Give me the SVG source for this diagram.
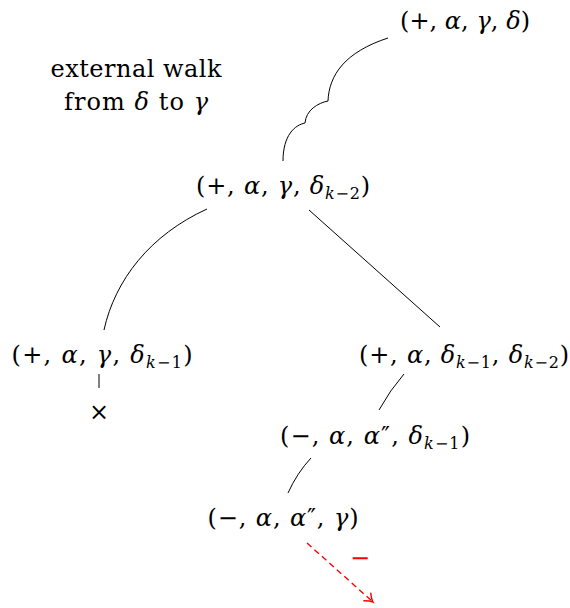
<svg xmlns="http://www.w3.org/2000/svg" width="570" height="608" viewBox="0 0 570 608">
<style>
text{font-family:"DejaVu Serif","Liberation Serif",serif;font-size:24px;fill:#000}
.c{text-anchor:middle}
.i{font-style:italic}
.s{font-size:16px;font-style:italic}
.s2{font-size:16px}
.e{fill:none;stroke:#000;stroke-width:1}
.r{fill:none;stroke:#ff0000;stroke-width:1.4;stroke-dasharray:6 4}
</style>
<defs>
<marker id="ar" markerWidth="14" markerHeight="14" refX="10" refY="7" orient="auto" markerUnits="userSpaceOnUse">
<path d="M2,1.5 Q7,6 10,7 Q7,8 2,12.5" fill="none" stroke="#ff0000" stroke-width="1.4"/>
</marker>
</defs>
<rect width="570" height="608" fill="#fff"/>
<g id="connectors">
<path class="e" d="M388,38 C345,52 329,75 328,101 C318,103 306,110 305,123 C295,125 283,135 283,161"/>
<path class="e" d="M207,209 C150,235 115,280 104,330"/>
<path class="e" d="M309,210 L440,327"/>
<path class="e" d="M99,374 L99,388"/>
<path class="e" d="M404,374 Q390,390 379,410"/>
<path class="e" d="M311,458 Q297,473 288,493"/>
<path class="r" d="M307,543 L373,602" marker-end="url(#ar)"/>
<text x="360" y="566" class="c" style="fill:#ff0000">−</text>
</g>
<g id="label-walk">
<text x="136" y="77" class="c" textLength="171" lengthAdjust="spacing">external walk</text>
<text x="136" y="110" class="c" textLength="144" lengthAdjust="spacing">from <tspan class="i">δ</tspan> to <tspan class="i">γ</tspan></text>
</g>
<g id="n-top">
<text x="465" y="29" class="c" textLength="130" lengthAdjust="spacing">(+, <tspan class="i">α</tspan>, <tspan class="i">γ</tspan>, <tspan class="i">δ</tspan>)</text>
</g>
<g id="n-k2">
<text x="283" y="194" class="c" textLength="174" lengthAdjust="spacing">(+, <tspan class="i">α</tspan>, <tspan class="i">γ</tspan>, <tspan class="i">δ</tspan><tspan class="s" dy="5">k</tspan><tspan class="s2">−2</tspan><tspan dy="-5">)</tspan></text>
</g>
<g id="n-left">
<text x="102" y="363" class="c" textLength="181" lengthAdjust="spacing">(+, <tspan class="i">α</tspan>, <tspan class="i">γ</tspan>, <tspan class="i">δ</tspan><tspan class="s" dy="5">k</tspan><tspan class="s2">−1</tspan><tspan dy="-5">)</tspan></text>
<text x="99" y="420" class="c">×</text>
</g>
<g id="n-right">
<text x="464" y="363" class="c" textLength="210" lengthAdjust="spacing">(+, <tspan class="i">α</tspan>, <tspan class="i">δ</tspan><tspan class="s" dy="5">k</tspan><tspan class="s2">−1</tspan><tspan dy="-5">, </tspan><tspan class="i">δ</tspan><tspan class="s" dy="5">k</tspan><tspan class="s2">−2</tspan><tspan dy="-5">)</tspan></text>
</g>
<g id="n-minus1">
<text x="375" y="444" class="c" textLength="190" lengthAdjust="spacing">(−, <tspan class="i">α</tspan>, <tspan class="i">α</tspan>″, <tspan class="i">δ</tspan><tspan class="s" dy="5">k</tspan><tspan class="s2">−1</tspan><tspan dy="-5">)</tspan></text>
</g>
<g id="n-minus2">
<text x="283" y="526" class="c" textLength="151" lengthAdjust="spacing">(−, <tspan class="i">α</tspan>, <tspan class="i">α</tspan>″, <tspan class="i">γ</tspan>)</text>
</g>
</svg>
